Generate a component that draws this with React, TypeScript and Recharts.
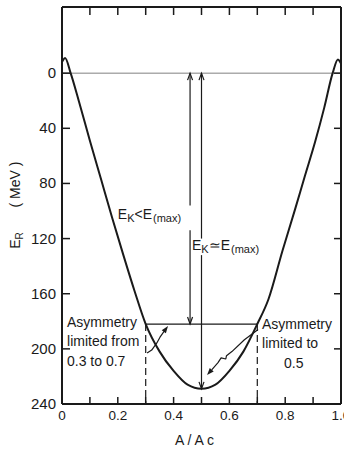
import { Line, LineChart, ReferenceDot, ReferenceLine, XAxis, YAxis } from 'recharts'

// fragment mass ratio A/Ac along the curve
const A_RATIO = [
  0, 0.011, 0.031, 0.06, 0.1, 0.14, 0.18, 0.22, 0.26, 0.3, 0.35, 0.4, 0.45, 0.5,
  0.55, 0.6, 0.65, 0.7, 0.74, 0.79, 0.835, 0.87, 0.907, 0.94, 0.97, 0.989, 1.0,
]
// energy release E_R in MeV (axis runs downward)
const E_RELEASE = [
  -8, -11, 0, 20, 49, 77, 105, 132, 158, 182, 202, 216, 226, 229,
  226, 216, 202, 182, 164, 129, 99, 75, 50, 25, 0, -10, -7,
]

const X_TICKS = [0, 0.1, 0.2, 0.3, 0.4, 0.5, 0.6, 0.7, 0.8, 0.9, 1.0]
const Y_TICKS = [0, 40, 80, 120, 160, 200, 240]
const Y_DOMAIN = [-48, 240]

const ASYM_LOW = 0.3
const ASYM_HIGH = 0.7
const SYMMETRIC = 0.5
const PARTIAL = 0.459 // x of the E_K < E(max) arrow

const energyAt = (a: number) => E_RELEASE[A_RATIO.indexOf(a)]
const CUT = energyAt(ASYM_LOW)
const DEEPEST = energyAt(SYMMETRIC)

// breaks in the two vertical arrows where their labels sit
const PARTIAL_GAP = [96, 114]
const FULL_GAP = [120, 132]

const data = A_RATIO.map((a, i) => ({ a, e: E_RELEASE[i] }))

const INK = '#1a1a1a'
const FONT = '"Liberation Sans", Arial, sans-serif'

function LeftTick({ x, y, payload }: any) {
  return (
    <g>
      <line x1={x} y1={y} x2={x + 8} y2={y} stroke={INK} strokeWidth={1.5} />
      <text x={x - 6} y={y + 5} textAnchor="end" fontSize={15} fontFamily={FONT} fill={INK}>
        {payload.value}
      </text>
    </g>
  )
}

function RightTick({ x, y }: any) {
  return <line x1={x} y1={y} x2={x - 7} y2={y} stroke={INK} strokeWidth={1.5} />
}

function TopTick({ x, y }: any) {
  return <line x1={x} y1={y} x2={x} y2={y + 8} stroke={INK} strokeWidth={1.5} />
}

function BottomTick({ x, y, payload }: any) {
  const v = payload.value
  const labelled = Math.round(v * 10) % 2 === 0
  return (
    <g>
      <line x1={x} y1={y} x2={x} y2={y - 7} stroke={INK} strokeWidth={1.5} />
      {labelled && (
        <text x={x} y={y + 16} textAnchor="middle" fontSize={13.5} fontFamily={FONT} fill={INK}>
          {v === 0 ? '0' : v.toFixed(1)}
        </text>
      )}
    </g>
  )
}

function YTitle({ viewBox }: any) {
  const { x, y, height } = viewBox
  const cx = x + 20
  const mid = y + height / 2
  return (
    <g fontFamily={FONT} fontSize={14} fill={INK}>
      <text transform={`translate(${cx},${mid + 35}) rotate(-90)`} textAnchor="middle">
        E<tspan fontSize={10} dy={3}>R</tspan>
      </text>
      <text transform={`translate(${cx},${mid - 21}) rotate(-90)`} textAnchor="middle">
        ( MeV )
      </text>
    </g>
  )
}

function XTitle({ viewBox }: any) {
  const { x, y, width } = viewBox
  return (
    <text x={x + width / 2 - 7} y={y + 41} textAnchor="middle" fontFamily={FONT} fontSize={14} fill={INK}>
      A / A<tspan dx={3}>c</tspan>
    </text>
  )
}

// straight segment with an open arrowhead at its second point
const headTo = (p: any) => {
  const { x1, y1, x2, y2 } = p
  const d = y2 > y1 ? 1 : -1
  return (
    <g stroke={INK} strokeWidth={1.2} fill="none">
      <line x1={x1} y1={y1} x2={x2} y2={y2} />
      <path d={`M${x2 - 2.5},${y2 - d * 7}L${x2},${y2}L${x2 + 2.5},${y2 - d * 7}`} />
    </g>
  )
}

// hand-drawn style pointer: offsets across the segment, filled head at the end
const wavy = (profile: number[][]) => (p: any) => {
  const { x1, y1, x2, y2 } = p
  const dx = x2 - x1
  const dy = y2 - y1
  const len = Math.hypot(dx, dy) || 1
  const nx = -dy / len
  const ny = dx / len
  const pts = profile.map(([t, o]) => [x1 + dx * t + nx * o, y1 + dy * t + ny * o])
  const [px, py] = pts[pts.length - 2]
  const hl = Math.hypot(x2 - px, y2 - py) || 1
  const ux = (x2 - px) / hl
  const uy = (y2 - py) / hl
  const bx = x2 - ux * 7
  const by = y2 - uy * 7
  const body = pts.slice(0, -1).concat([[bx, by]])
  const d = body.map(([qx, qy], i) => `${i ? 'L' : 'M'}${qx.toFixed(1)},${qy.toFixed(1)}`).join('')
  return (
    <g>
      <path d={d} fill="none" stroke={INK} strokeWidth={1.2} strokeLinejoin="round" />
      <polygon
        points={`${x2},${y2} ${bx - uy * 2.6},${by + ux * 2.6} ${bx + uy * 2.6},${by - ux * 2.6}`}
        fill={INK}
      />
    </g>
  )
}

const energyLabel = (rel: string) => (p: any) => (
  <text x={p.cx} y={p.cy} fontFamily={FONT} fontSize={14} fill={INK}>
    E<tspan fontSize={11} dy={3}>K</tspan>
    <tspan fontSize={14} dy={-3}>{rel}E</tspan>
    <tspan fontSize={11} dy={3} dx={1}>(max)</tspan>
  </text>
)

const note = (lines: string[], offsets: number[]) => (p: any) => (
  <text fontFamily={FONT} fontSize={14} fill={INK}>
    {lines.map((l, i) => (
      <tspan key={i} x={p.cx + offsets[i]} y={p.cy + i * 19.5}>
        {l}
      </tspan>
    ))}
  </text>
)

export default function App() {
  return (
    <div style={{ position: 'absolute', left: 0, top: 0, background: '#fff' }}>
      <LineChart width={344} height={449} data={data} margin={{ top: 6, right: 2, bottom: 0, left: 0 }}>
        <XAxis
          dataKey="a"
          type="number"
          domain={[0, 1]}
          allowDataOverflow
          ticks={X_TICKS}
          interval={0}
          height={45}
          tickSize={0}
          tickMargin={0}
          tickLine={false}
          tick={<BottomTick />}
          axisLine={{ stroke: INK, strokeWidth: 2 }}
          label={<XTitle />}
        />
        <XAxis
          xAxisId="top"
          dataKey="a"
          orientation="top"
          type="number"
          domain={[0, 1]}
          allowDataOverflow
          ticks={X_TICKS}
          interval={0}
          height={1}
          tickSize={0}
          tickMargin={0}
          tickLine={false}
          tick={<TopTick />}
          axisLine={{ stroke: INK, strokeWidth: 2 }}
        />
        <YAxis
          type="number"
          reversed
          domain={Y_DOMAIN}
          allowDataOverflow
          ticks={Y_TICKS}
          interval={0}
          width={62}
          tickSize={0}
          tickMargin={0}
          tickLine={false}
          tick={<LeftTick />}
          axisLine={{ stroke: INK, strokeWidth: 2 }}
          label={<YTitle />}
        />
        <YAxis
          yAxisId="right"
          orientation="right"
          type="number"
          reversed
          domain={Y_DOMAIN}
          allowDataOverflow
          ticks={Y_TICKS}
          interval={0}
          width={1}
          tickSize={0}
          tickMargin={0}
          tickLine={false}
          tick={<RightTick />}
          axisLine={{ stroke: INK, strokeWidth: 2 }}
        />

        <ReferenceLine y={0} stroke="#808080" strokeWidth={1} />
        <ReferenceLine
          segment={[{ x: ASYM_LOW, y: CUT }, { x: ASYM_HIGH, y: CUT }]}
          stroke={INK}
          strokeWidth={1.2}
        />
        <ReferenceLine
          segment={[{ x: ASYM_LOW, y: CUT }, { x: ASYM_LOW, y: 240 }]}
          stroke={INK}
          strokeWidth={1.2}
          strokeDasharray="7 4"
        />
        <ReferenceLine
          segment={[{ x: ASYM_HIGH, y: CUT }, { x: ASYM_HIGH, y: 240 }]}
          stroke={INK}
          strokeWidth={1.2}
          strokeDasharray="7 4"
        />

        {/* E_K < E(max): from zero down to the asymmetry cut */}
        <ReferenceLine segment={[{ x: PARTIAL, y: PARTIAL_GAP[0] }, { x: PARTIAL, y: 0 }]} shape={headTo} />
        <ReferenceLine segment={[{ x: PARTIAL, y: PARTIAL_GAP[1] }, { x: PARTIAL, y: CUT }]} shape={headTo} />
        {/* E_K = E(max): from zero down to the symmetric minimum */}
        <ReferenceLine segment={[{ x: SYMMETRIC, y: FULL_GAP[0] }, { x: SYMMETRIC, y: 0 }]} shape={headTo} />
        <ReferenceLine segment={[{ x: SYMMETRIC, y: FULL_GAP[1] }, { x: SYMMETRIC, y: DEEPEST }]} shape={headTo} />

        <ReferenceLine
          segment={[{ x: 0.305, y: 203 }, { x: 0.38, y: 183.5 }]}
          shape={wavy([[0, 0], [0.15, 1.8], [0.4, 1.6], [0.6, 0.5], [0.8, 0.1], [1, 0]])}
        />
        <ReferenceLine
          segment={[{ x: 0.703, y: 186 }, { x: 0.52, y: 219 }]}
          shape={wavy([[0, 0], [0.25, 1.5], [0.5, 1], [0.6, 1.5], [0.64, -0.5], [0.68, 3.5], [0.76, 2], [1, 0]])}
        />

        <ReferenceDot x={0.2} y={106} r={1} shape={energyLabel('<')} />
        <ReferenceDot x={0.466} y={128} r={1} shape={energyLabel('≃')} />
        <ReferenceDot
          x={0.018}
          y={184}
          r={1}
          shape={note(['Asymmetry', 'limited from', '0.3 to 0.7'], [0, 0, 0])}
        />
        <ReferenceDot
          x={0.717}
          y={185.5}
          r={1}
          shape={note(['Asymmetry', 'limited to', '0.5'], [0, 0, 22])}
        />

        <Line
          type="monotone"
          dataKey="e"
          stroke={INK}
          strokeWidth={2}
          dot={false}
          isAnimationActive={false}
        />
      </LineChart>
    </div>
  )
}
